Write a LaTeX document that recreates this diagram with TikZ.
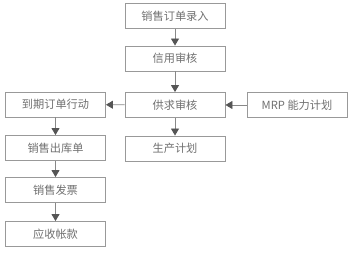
\documentclass[tikz,border=0pt]{standalone}
\usepackage{fontspec}
\newfontfamily\cjk{Noto Sans CJK SC}
\usetikzlibrary{arrows.meta}
\definecolor{boxline}{HTML}{999999}
\definecolor{txt}{HTML}{707070}
\definecolor{arr}{HTML}{555555}
\definecolor{lin}{HTML}{888888}
\begin{document}
\begin{tikzpicture}[x=1pt,y=-1pt,
  box/.style={draw=boxline,line width=0.9pt,fill=white,minimum width=100pt,minimum height=25pt,inner sep=0pt,
    font=\cjk\fontsize{11.2}{13}\selectfont,text=txt},
  conn/.style={draw=lin,line width=0.9pt,-{Triangle[width=8pt,length=7pt,color=arr]}}]
\useasboundingbox[fill=white] (0,0) rectangle (350,253);
\node[box] (a) at (175,16) {销售订单录入};
\node[box] (b) at (175,58.5) {信用审核};
\node[box] (c) at (175,105) {供求审核};
\node[box] (m) at (297,105) {MRP 能力计划};
\node[box] (p) at (175,148.5) {生产计划};
\node[box] (l1) at (55.5,104.5) {到期订单行动};
\node[box] (l2) at (55.5,148) {销售出库单};
\node[box] (l3) at (55.5,190) {销售发票};
\node[box] (l4) at (55.5,234) {应收帐款};
\draw[conn] (a) -- (b);
\draw[conn] (b) -- (c);
\draw[conn] (c) -- (p);
\draw[conn] (m) -- (c);
\draw[conn] (c) -- (l1);
\draw[conn] (l1) -- (l2);
\draw[conn] (l2) -- (l3);
\draw[conn] (l3) -- (l4);
\end{tikzpicture}
\end{document}
